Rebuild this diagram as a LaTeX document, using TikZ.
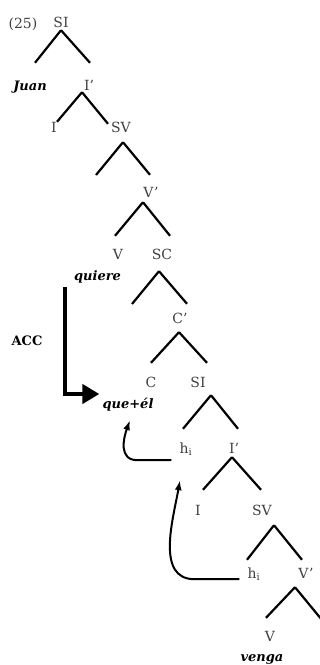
\documentclass[tikz,border=0pt]{standalone}
\usepackage{fontspec}
\setmainfont{DejaVu Serif}
\usepackage{tikz}
\usetikzlibrary{arrows.meta}

\begin{document}
\begin{tikzpicture}[x=1pt,y=-1pt,
  lab/.style={inner sep=0pt,text height=10pt,text depth=0pt,font=\fontsize{14}{16}\selectfont,text=black!75},
  word/.style={inner sep=0pt,text height=10pt,text depth=3pt,font=\fontsize{13}{15}\selectfont\bfseries\itshape},
  branch/.style={line width=2.2pt},
  raise/.style={line width=4.5pt,line join=miter,-{Triangle[length=17pt,width=19pt]}},
  move/.style={line width=2pt,-{Latex[length=10pt,width=7pt]}}]
\useasboundingbox (0,0) rectangle (320,665);

% example number and labels
\node[lab] (num) at (23,23) {(25)};
\node[lab] (siA) at (61,22) {SI};
\node[word] (juan) at (30,86.5) {Juan};
\node[lab] (ibarA) at (89,85) {I'};
\node[lab] (iA) at (54,127) {I};
\node[lab] (svA) at (121,127) {SV};
\node[lab] (vbarA) at (151,192) {V'};
\node[lab] (vA) at (118,254) {V};
\node[word] (quiere) at (97.5,276.5) {quiere};
\node[lab] (sc) at (162,254) {SC};
\node[lab] (cbar) at (180,318) {C'};
\node[lab] (c) at (151,382) {C};
\node[word] (queel) at (128,404.5) {que+él};
\node[lab] (siB) at (198,382) {SI};
\node[lab] (hA) at (186,448) {h\textsubscript{i}};
\node[lab] (ibarB) at (234,448) {I'};
\node[lab] (iB) at (198,510) {I};
\node[lab] (svB) at (262,510) {SV};
\node[lab] (hB) at (254,573) {h\textsubscript{i}};
\node[lab] (vbarB) at (306,573) {V'};
\node[lab] (vB) at (270,636) {V};
\node[word] (venga) at (262,657.5) {venga};
\node[lab,text=black,font=\fontsize{13}{15}\selectfont\bfseries] (acc) at (27,340) {ACC};

% empty branch ends
\coordinate (svA-l) at (96,175);
\coordinate (sc-l) at (132,304);
\coordinate (vbarB-r) at (322,620);

% branches
\draw[branch] ([shift={(0,3)}]siA.south) coordinate (siA-t) -- ([shift={(5,-17)}]juan.north)
  (siA-t) -- ([shift={(1,-17)}]ibarA.north);
\draw[branch] ([shift={(-7,2)}]ibarA.south) coordinate (ibarA-t) -- ([shift={(3,0)}]iA.north)
  (ibarA-t) -- ([shift={(-13,2)}]svA.north);
\draw[branch] ([shift={(2,10)}]svA.south) coordinate (svA-t) -- (svA-l)
  (svA-t) -- ([shift={(-1,-12)}]vbarA.north);
\draw[branch] ([shift={(-8,5)}]vbarA.south) coordinate (vbarA-t) -- ([shift={(-3,-13)}]vA.north)
  (vbarA-t) -- ([shift={(8,-13)}]sc.north);
\draw[branch] ([shift={(-3,12)}]sc.south) coordinate (sc-t) -- (sc-l)
  (sc-t) -- ([shift={(7,-9)}]cbar.north);
\draw[branch] ([shift={(-1,9)}]cbar.south) coordinate (cbar-t) -- ([shift={(0,-14)}]c.north)
  (cbar-t) -- ([shift={(9,-14)}]siB.north);
\draw[branch] ([shift={(13,8)}]siB.south) coordinate (siB-t) -- ([shift={(-3,-14)}]hA.north)
  (siB-t) -- ([shift={(4,-14)}]ibarB.north);
\draw[branch] ([shift={(-2,4)}]ibarB.south) coordinate (ibarB-t) -- ([shift={(5,-15)}]iB.north)
  (ibarB-t) -- ([shift={(-1,-15)}]svB.north);
\draw[branch] ([shift={(12,10)}]svB.south) coordinate (svB-t) -- ([shift={(-7,-8)}]hB.north)
  (svB-t) -- ([shift={(-4,-8)}]vbarB.north);
\draw[branch] ([shift={(-11,9)}]vbarB.south) coordinate (vbarB-t) -- ([shift={(-4,-13)}]vB.north)
  (vbarB-t) -- (vbarB-r);

% case assignment
\draw[raise] ([shift={(-9,10.5)}]quiere.west) |- ([shift={(-3,-10.5)}]queel.west);

% movement of the traces
\draw[move] ([shift={(-8,7)}]hA.south west) -- ++(-34,0)
  to[out=180,in=-110,looseness=1.2] ([shift={(2,9)}]queel.south);
\draw[move] ([shift={(-8,1)}]hB.south west) -- ++(-45,0)
  to[out=180,in=-100] ([shift={(-6,27)}]hA.south);
\end{tikzpicture}
\end{document}
